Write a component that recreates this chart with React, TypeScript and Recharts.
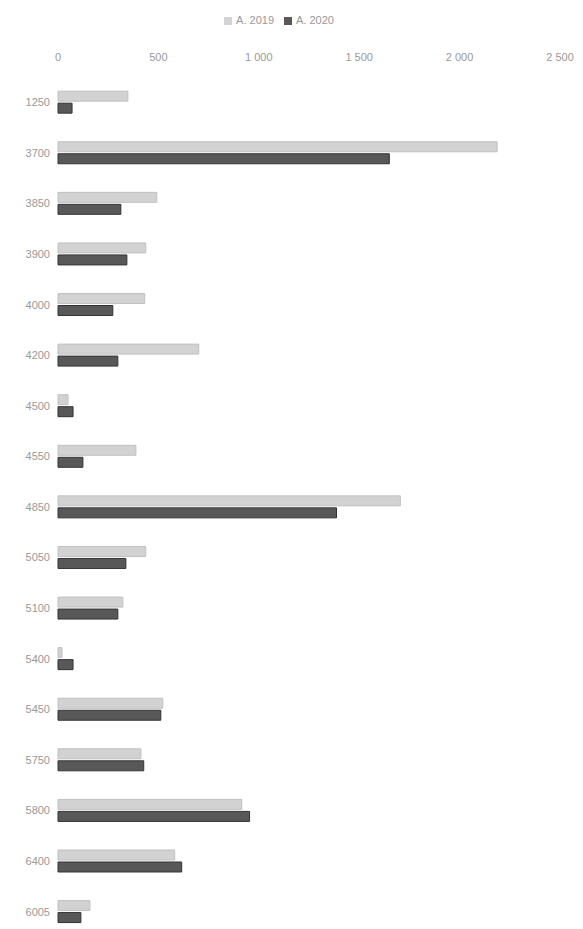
import { BarChart, Bar, XAxis, YAxis, Legend } from "recharts";

const categories = ["1250", "3700", "3850", "3900", "4000", "4200", "4500", "4550", "4850", "5050", "5100", "5400", "5450", "5750", "5800", "6400", "6005"];
const values2019 = [348, 2187, 492, 437, 432, 701, 50, 388, 1705, 437, 323, 20, 522, 413, 915, 581, 159];
const values2020 = [70, 1650, 313, 343, 273, 298, 75, 124, 1387, 338, 298, 75, 512, 427, 954, 616, 114];
const xTicks = [0, 500, 1000, 1500, 2000, 2500];

const data = categories.map((c, i) => ({ name: c, a2019: values2019[i], a2020: values2020[i] }));

const fmt = (v: number) => v.toLocaleString("fr-FR").replace(/\u202f|\u00a0/g, " ");

const tickStyle = { fill: "#999999", fontSize: 11, fontFamily: "Liberation Sans, sans-serif" };

export default function App() {
  return (
    <div style={{ position: "absolute", left: 0, top: 0, width: 583, height: 929, overflow: "hidden", background: "#fff" }}>
      <BarChart
        width={583}
        height={937}
        data={data}
        layout="vertical"
        margin={{ top: 40, right: 23, bottom: 0, left: 8 }}
        barCategoryGap="28%"
        barGap={2}
      >
        <Legend
          verticalAlign="top"
          align="center"
          iconType="square"
          iconSize={8}
          wrapperStyle={{ top: 14, fontSize: 11, fontFamily: "Liberation Sans, sans-serif" }}
          formatter={(value) => <span style={{ color: "#999999" }}>{value}</span>}
        />
        <XAxis
          type="number"
          orientation="top"
          domain={[0, 2500]}
          ticks={xTicks}
          tickFormatter={fmt}
          axisLine={false}
          tickLine={false}
          tick={{ ...tickStyle, dy: -8 }}
          height={25}
        />
        <YAxis
          type="category"
          dataKey="name"
          axisLine={false}
          tickLine={false}
          tick={tickStyle}
          width={50}
        />
        <Bar dataKey="a2019" name="A. 2019" fill="#d2d2d2" stroke="#c0c0c0" isAnimationActive={false} />
        <Bar dataKey="a2020" name="A. 2020" fill="#585858" stroke="#333" isAnimationActive={false} />
      </BarChart>
    </div>
  );
}
